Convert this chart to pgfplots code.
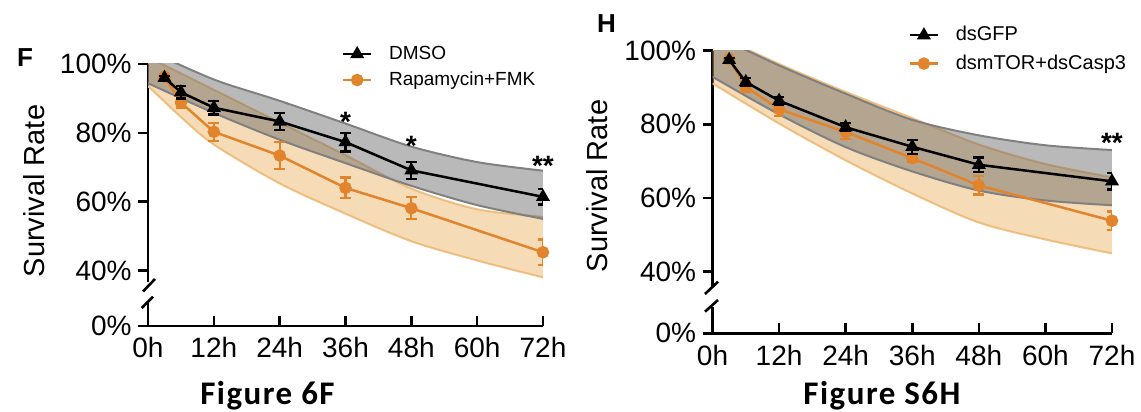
\documentclass[border=0pt]{standalone}
\usepackage{fontspec}
\setmainfont{Liberation Sans}
\newfontfamily\calibri[LetterSpace=4.5]{Carlito}
\usepackage{pgfplots}
\pgfplotsset{compat=1.18}
\usepgfplotslibrary{fillbetween}

\definecolor{rapa}{RGB}{226,132,43}
\definecolor{bandgray}{RGB}{100,100,100}
\definecolor{bandgrayline}{RGB}{128,128,128}
\definecolor{bandorange}{RGB}{236,175,95}
\definecolor{bandorangeline}{RGB}{240,196,140}

\tikzset{sig/.style={font=\fontsize{14}{14}\selectfont\bfseries, anchor=base}}

\pgfplotsset{
  panel/.style={scale only axis, xmin=0, xmax=72,
    axis line style={line width=1.3pt},
    every tick/.style={line width=1.3pt, black},
    major tick length=5pt},
  upper/.style={panel, axis x line=none, axis y line*=left, ymax=100,
    clip mode=individual,
    ytick={40,60,80,100}, yticklabels={40\%,60\%,80\%,100\%},
    ytick align=outside,
    yticklabel style={font=\fontsize{14}{14}\selectfont, inner sep=3pt},
    legend cell align=left,
    legend image code/.code={%
      \draw[mark repeat=2,mark phase=2,#1] plot coordinates {(0pt,0pt) (7pt,0pt) (14pt,0pt)};
      \path (21.3pt,0pt);},
    reverse legend},
  lower/.style={panel, axis x line*=bottom, axis y line*=left, ymin=0,
    ytick={0}, yticklabels={0\%},
    xtick={0,12,24,36,48,60,72}, xticklabels={0h,12h,24h,36h,48h,60h,72h},
    xtick align=inside, ytick align=outside,
    yticklabel style={font=\fontsize{14}{14}\selectfont, inner sep=3pt},
    xticklabel style={font=\fontsize{14}{14}\selectfont, yshift=-2.3pt}},
  dline/.style={black, line width=1.25pt, mark=triangle*, mark size=2.8pt,
    error bars/.cd, y dir=both, y explicit,
    error bar style={line width=1.1pt},
    error mark options={rotate=90, mark size=2.7pt, line width=1.1pt}},
  oline/.style={rapa, line width=1.25pt, mark=*, mark size=2.5pt,
    error bars/.cd, y dir=both, y explicit,
    error bar style={line width=1.1pt},
    error mark options={rotate=90, mark size=2.7pt, line width=1.1pt}},
  gedge/.style={bandgrayline, line width=1pt, smooth},
  oedge/.style={bandorangeline, line width=1pt, smooth, on layer=pre main},
}

% left panel: DMSO vs Rapamycin+FMK
\pgfplotstableread{
t v e
3 96.0 0.6
6 91.8 1.8
12 87.3 2.0
24 83.3 2.5
36 77.3 2.7
48 69.1 2.4
72 61.4 2.2
}\dmso
\pgfplotstableread{
t v e
3 96.3 0.8
6 88.8 1.6
12 80.3 2.6
24 73.4 4.0
36 64.0 3.0
48 58.1 3.2
72 45.3 3.7
}\rapafmk
% right panel: dsGFP vs dsmTOR+dsCasp3
\pgfplotstableread{
t v e
3 97.5 0.5
6 91.5 1.0
12 86.4 1.0
24 79.2 1.1
36 73.9 1.9
48 69.0 2.0
72 64.5 2.2
}\dsgfp
\pgfplotstableread{
t v e
3 97.7 0.6
6 90.2 1.5
12 84.1 1.8
24 77.9 2.0
36 70.8 1.0
48 63.4 2.5
72 53.8 2.5
}\dsmtor

\begin{document}
\begin{tikzpicture}

%%% ---------- panel F ----------
\begin{axis}[upper, at={(74pt,65pt)}, anchor=south west,
  width=197.5pt, height=109pt, ymin=36.66,
  legend style={at={(0.49,1.098)}, anchor=north west, draw=none, fill=none,
    inner sep=0pt, font=\fontsize{9.5}{9.5}\selectfont, row sep=2pt,
    nodes={inner sep=1pt, text height=7pt, text depth=2pt}}]
\addplot[oedge, name path=ou, forget plot] coordinates {(0,102) (12,92.5) (24,83) (36,73.5) (48,63.8) (60,57.8) (72,55.6)};
\addplot[oedge, name path=ol, forget plot] coordinates {(0,93.6) (6,84.6) (12,76.6) (24,65.3) (36,56.5) (48,48.5) (60,42.9) (72,38)};
\addplot[bandorange, fill opacity=0.45, forget plot] fill between[of=ou and ol];
\addplot[gedge, name path=gu, forget plot] coordinates {(0,104) (12,95.5) (24,89.3) (36,82.7) (48,76) (60,71.5) (72,69)};
\addplot[gedge, name path=gl, forget plot] coordinates {(0,94.4) (12,85.8) (24,78) (36,71.2) (48,64.6) (60,59) (72,55)};
\addplot[bandgray, fill opacity=0.45, forget plot] fill between[of=gu and gl];
\addplot[oline] table[x=t, y=v, y error=e] {\rapafmk};
\addlegendentry{Rapamycin+FMK}
\addplot[dline] table[x=t, y=v, y error=e] {\dmso};
\addlegendentry{DMSO}
\node[sig] at (axis cs:36,80.5) {*};
\node[sig] at (axis cs:48,73.3) {*};
\node[sig] at (axis cs:72,67.5) {**};
\end{axis}
\begin{axis}[lower, at={(74pt,43pt)}, anchor=south west,
  width=197.5pt, height=11.5pt, ymax=6.68]
\addplot[draw=none, forget plot] coordinates {(0,0) (72,0)};
\end{axis}
\draw[line width=1.3pt] (71.5pt,60.25pt) -- (77.5pt,66.5pt);
\draw[line width=1.3pt] (70.85pt,52pt) -- (76.5pt,57.65pt);
\node[anchor=base west, font=\fontsize{13}{13}\selectfont\bfseries] at (5pt,172.5pt) {F};
\node[rotate=90, font=\fontsize{14.5}{14.5}\selectfont] at (17pt,110.5pt) {Survival Rate};
\node[anchor=base, font=\fontsize{16.5}{16.5}\selectfont\calibri\bfseries] at (133.75pt,3.5pt) {Figure 6F};

%%% ---------- panel H ----------
\begin{axis}[upper, at={(356.25pt,62.65pt)}, anchor=south west,
  width=199.75pt, height=118pt, ymin=35.87,
  legend style={at={(0.49,1.116)}, anchor=north west, draw=none, fill=none,
    inner sep=0pt, font=\fontsize{10}{10}\selectfont, row sep=2.7pt,
    nodes={inner sep=1pt, text height=7.5pt, text depth=2pt}}]
\addplot[oedge, name path=ou, forget plot] coordinates {(0,104.8) (12,96.4) (24,88.8) (36,81.7) (48,74.5) (60,69.2) (72,65.6)};
\addplot[oedge, name path=ol, forget plot] coordinates {(0,91.1) (12,80.2) (24,70.2) (36,61.2) (48,53.3) (60,48.7) (72,44.9)};
\addplot[bandorange, fill opacity=0.45, forget plot] fill between[of=ou and ol];
\addplot[gedge, name path=gu, forget plot] coordinates {(0,104.5) (12,96) (24,88.3) (36,81.2) (48,77) (60,74.3) (72,73)};
\addplot[gedge, name path=gl, forget plot] coordinates {(0,92.9) (12,82.7) (24,73.8) (36,67.2) (48,62) (60,59.3) (72,58)};
\addplot[bandgray, fill opacity=0.45, forget plot] fill between[of=gu and gl];
\addplot[oline] table[x=t, y=v, y error=e] {\dsmtor};
\addlegendentry{dsmTOR+dsCasp3}
\addplot[dline] table[x=t, y=v, y error=e] {\dsgfp};
\addlegendentry{dsGFP}
\node[sig] at (axis cs:72,72.3) {**};
\end{axis}
\begin{axis}[lower, at={(356.25pt,39.35pt)}, anchor=south west,
  width=199.75pt, height=13.3pt, ymax=7.23]
\addplot[draw=none, forget plot] coordinates {(0,0) (72,0)};
\end{axis}
\draw[line width=1.3pt] (352.5pt,59pt) -- (359pt,65.15pt);
\draw[line width=1.3pt] (352.5pt,50.15pt) -- (359pt,56pt);
\node[anchor=base west, font=\fontsize{13}{13}\selectfont\bfseries] at (295pt,189.5pt) {H};
\node[rotate=90, font=\fontsize{14.5}{14.5}\selectfont] at (298.75pt,113pt) {Survival Rate};
\node[anchor=base, font=\fontsize{16.5}{16.5}\selectfont\calibri\bfseries] at (441pt,3.5pt) {Figure S6H};

\pgfresetboundingbox
\path[use as bounding box] (0,0) rectangle (570.5pt,206pt);
\end{tikzpicture}
\end{document}
